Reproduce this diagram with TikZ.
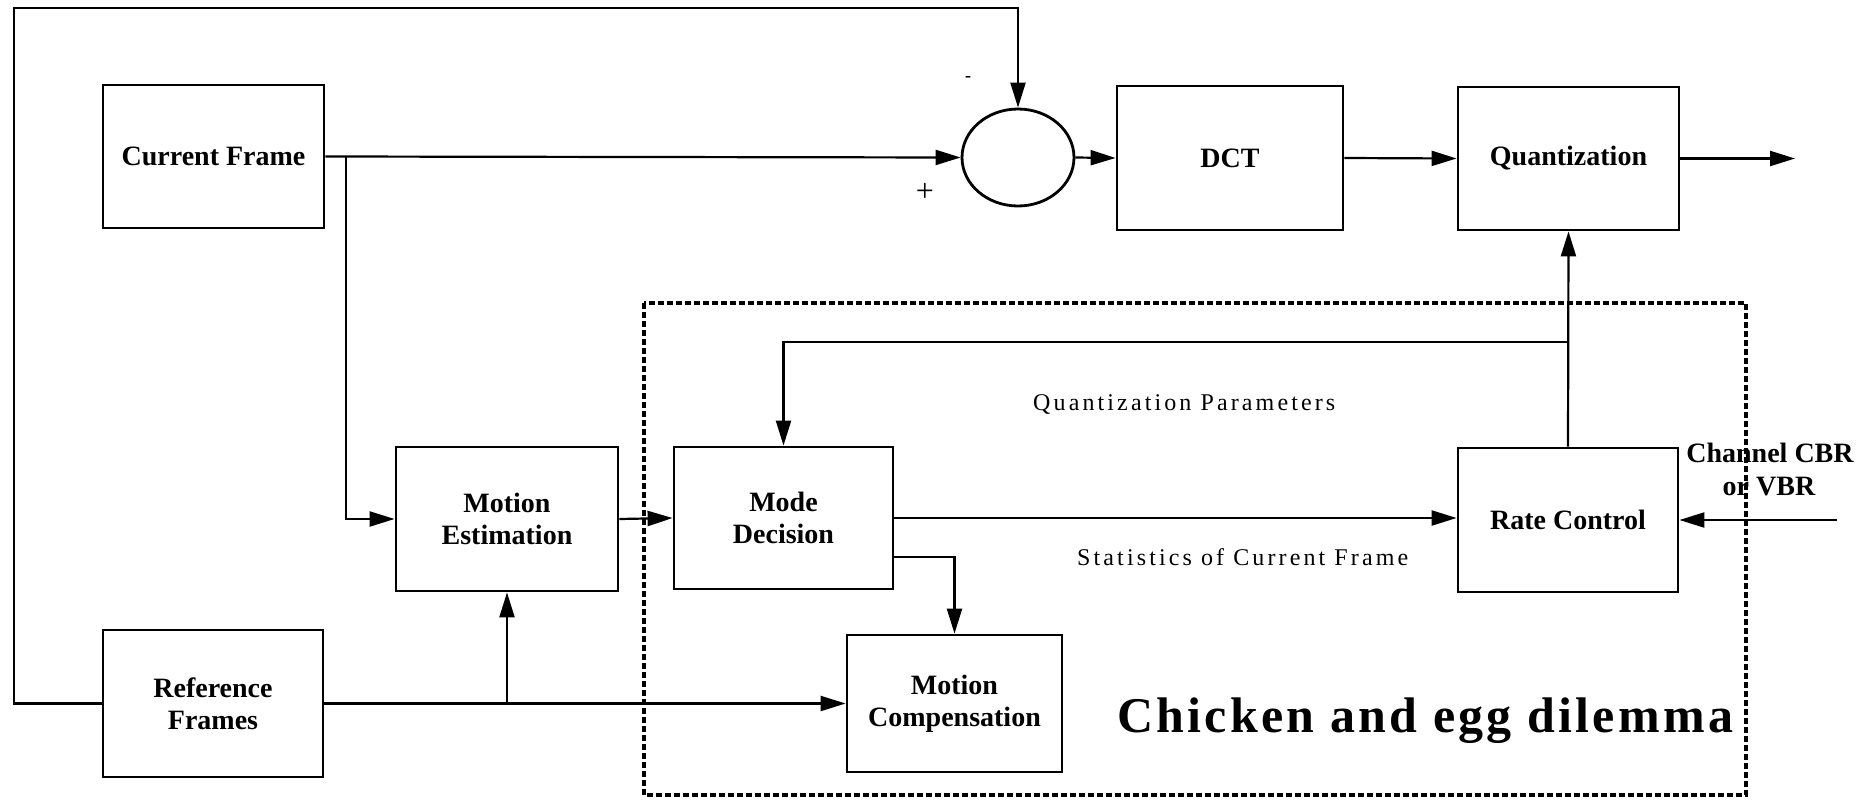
\documentclass[tikz,border=0pt]{standalone}
\usepackage{fontspec}
\setmainfont{Liberation Serif}
\usetikzlibrary{arrows.meta,shapes.geometric}
\begin{document}
\begin{tikzpicture}[x=1pt,y=-1pt,
  box/.style={draw,line width=2.8pt,rectangle,inner sep=0pt,align=center,
    font=\bfseries\fontsize{28}{32}\selectfont},
  arr/.style={line width=2.2pt,-{Triangle[length=25pt,width=15pt]}},
  lbl/.style={inner sep=0pt,anchor=base west},
  dashbox/.style={line width=3.5pt,dash pattern=on 6pt off 3pt}
]
\useasboundingbox (0,0) rectangle (1864,803);
% nodes
\node[box,minimum width=221pt,minimum height=143pt] (cur) at (213.5,156.5) {Current Frame};
\node[draw,line width=2.8pt,ellipse,minimum width=112pt,minimum height=97pt,inner sep=0pt] (sum) at (1018,157.5) {};
\node[box,minimum width=226pt,minimum height=144pt] (dct) at (1230,158) {DCT};
\node[box,minimum width=221pt,minimum height=143pt] (quant) at (1568.5,158.5) {Quantization};
\node[box,minimum width=222pt,minimum height=144pt] (me) at (507,519) {Motion\\Estimation};
\node[box,minimum width=219pt,minimum height=142pt] (md) at (783.5,518) {Mode\\Decision};
\node[box,minimum width=215pt,minimum height=137pt] (mc) at (954.5,703.5) {Motion\\Compensation};
\node[box,minimum width=220pt,minimum height=147pt] (ref) at (213,703.5) {Reference\\Frames};
\node[box,minimum width=220pt,minimum height=144pt] (rc) at (1568,520) {Rate Control};
% dashed region
\draw[dashbox] (644,303) rectangle (1746,795);
% coordinates
\coordinate (fbL) at (14,8);
\coordinate (b1) at (346,156.5);
\coordinate (b2) at (507,703.5);
\coordinate (out) at (1795,158.5);
\coordinate (qpT) at (1568,342);
\coordinate (chin) at (1837,520);
% connectors
\draw[arr] (ref.west) -| (fbL) -| (sum.north);
\draw[arr] (cur.east) -- (sum.west);
\draw[arr] (b1) |- (me.west);
\draw[arr] (sum.east) -- (dct.west);
\draw[arr] (dct.east) -- (quant.west);
\draw[arr] (quant.east) -- (out);
\draw[arr] (rc.north) -- (quant.south);
\draw[arr] (qpT) -| (md.north);
\draw[arr] (me.east) -- (md.west);
\draw[arr] (md.east) -- (md.east -| rc.west);
\draw[arr] ([yshift=-39pt]md.east) -| (mc.north);
\draw[arr] (ref.east) -- (mc.west);
\draw[arr] (b2) -- (me.south);
\draw[arr] (chin) -- (rc.east);
% labels
\node[lbl,font=\fontsize{24}{28}\selectfont\addfontfeature{LetterSpace=13}] (lqp) at (1033,410) {Quantization Parameters};
\node[lbl,font=\fontsize{24}{28}\selectfont\addfontfeature{LetterSpace=13}] (lst) at (1077,565) {Statistics of Current Frame};
\node[inner sep=0pt,anchor=base,font=\bfseries\fontsize{28}{32}\selectfont] (lch1) at (1770,462) {Channel CBR};
\node[inner sep=0pt,anchor=base,font=\bfseries\fontsize{28}{32}\selectfont] (lch2) at (1769,495) {or VBR};
\node[lbl,font=\bfseries\fontsize{50}{56}\selectfont\addfontfeature{LetterSpace=6.5}] (lce) at (1117,732) {Chicken and egg dilemma};
\node[inner sep=0pt,font=\bfseries\fontsize{18}{20}\selectfont] (lminus) at (968,79) {-};
\node[inner sep=0pt,font=\fontsize{32}{36}\selectfont] (lplus) at (925,192) {+};
\end{tikzpicture}
\end{document}
